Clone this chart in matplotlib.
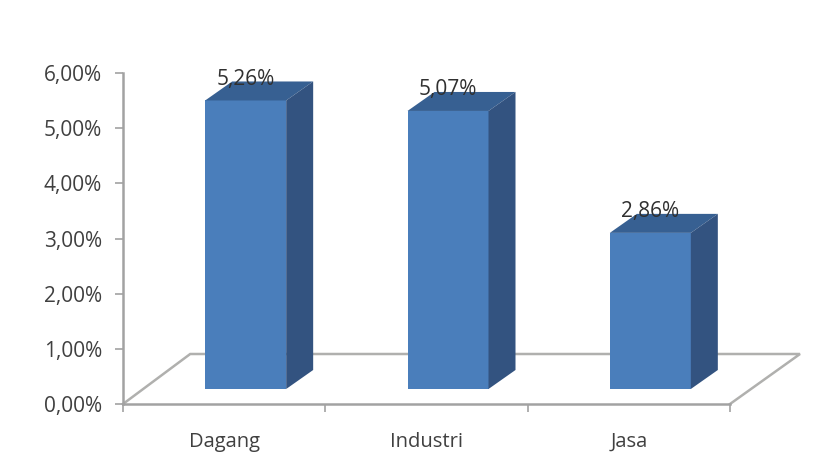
import matplotlib
matplotlib.use("Agg")
import matplotlib.pyplot as plt
from matplotlib.patches import Polygon

categories = ["Dagang", "Industri", "Jasa"]
values = [5.26, 5.07, 2.86]
value_labels = ["5,26%", "5,07%", "2,86%"]
y_ticks = [0, 1, 2, 3, 4, 5, 6]
y_tick_labels = ["0,00%", "1,00%", "2,00%", "3,00%", "4,00%", "5,00%", "6,00%"]

W, H = 818, 457
L, R, B, T = 123, 730, 404, 73
plt.rcParams["font.family"] = ["Open Sans", "DejaVu Sans"]
fig = plt.figure(figsize=(W / 100, H / 100), dpi=100, facecolor="white")
ax = fig.add_axes([L / W, 1 - B / H, (R - L) / W, (B - T) / H])
ax.set_xlim(-0.5, 2.5)
ax.set_ylim(0, 6)
ax.patch.set_alpha(0)

px_x = (R - L) / 3
px_y = (B - T) / 6
depth_x, depth_y = 70 / px_x, 50 / px_y      # floor depth
bar_dx, bar_dy = 27 / px_x, 19 / px_y        # bar depth
off_x, off_y = 21.5 / px_x, 15 / px_y        # bar front offset from axis
bw = 81 / px_x

GRID = "#b0b0ae"
AX = "#a2a2a2"
TXT = "#404040"
FRONT, TOP, SIDE = "#4a7ebb", "#376092", "#335380"

# floor
ax.plot([-0.5, -0.5 + depth_x * 0.96, 2.5 + depth_x, 2.5],
        [0, depth_y, depth_y, 0], color=GRID, lw=1.8, clip_on=False,
        solid_joinstyle="miter", zorder=1)

for i, (v, lab) in enumerate(zip(values, value_labels)):
    x0 = i + off_x - bw / 2
    x1 = x0 + bw
    y0 = off_y
    y1 = v + off_y - 0.03
    ax.add_patch(Polygon([(x0, y0), (x1, y0), (x1, y1), (x0, y1)], fc=FRONT, ec="none", zorder=3, clip_on=False))
    ax.add_patch(Polygon([(x0, y1), (x1, y1), (x1 + bar_dx, y1 + bar_dy), (x0 + bar_dx, y1 + bar_dy)],
                         fc=TOP, ec="none", zorder=3, clip_on=False))
    ax.add_patch(Polygon([(x1, y0), (x1 + bar_dx, y0 + bar_dy), (x1 + bar_dx, y1 + bar_dy), (x1, y1)],
                         fc=SIDE, ec="none", zorder=3, clip_on=False))
    ax.annotate(lab, xy=(i + off_x, y1), xytext=(0, 21), textcoords="offset pixels",
                ha="center", va="center", fontsize=15, color="#303030", zorder=5, annotation_clip=False)

for s in ["top", "right"]:
    ax.spines[s].set_visible(False)
for s in ["left", "bottom"]:
    ax.spines[s].set_color(AX)
    ax.spines[s].set_linewidth(1.8)

ax.set_yticks(y_ticks, y_tick_labels)
ax.set_xticks([-0.5, 0.5, 1.5, 2.5], minor=False, labels=["", "", "", ""])
ax.set_xticks([0, 1, 2], categories, minor=True)
ax.tick_params(axis="y", length=6, width=1.2, color=AX, labelsize=15, labelcolor=TXT, pad=9)
ax.tick_params(axis="x", which="major", length=6, width=1.2, color=AX, direction="out")
ax.tick_params(axis="x", which="minor", length=0, labelsize=14.5, labelcolor=TXT, pad=20)

fig.savefig("out.png", dpi=100, facecolor="white")
